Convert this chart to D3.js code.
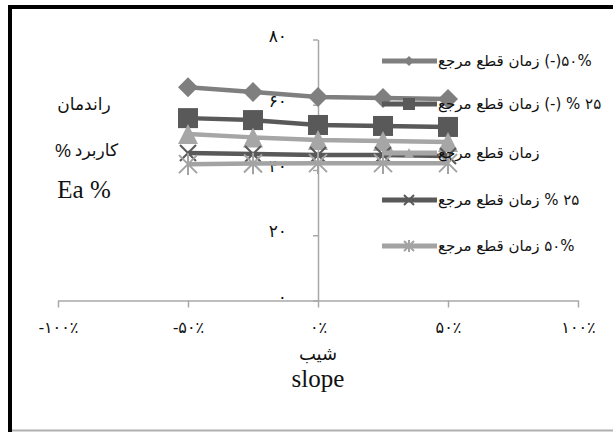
<!DOCTYPE html>
<html><head><meta charset="utf-8">
<script src="https://cdn.jsdelivr.net/npm/d3@7"></script>
<style>
html,body{margin:0;padding:0;background:#fff;}
svg{display:block;}
</style>
</head><body>
<svg id="c" width="613" height="432"></svg>
<script>
// ---- data ----
const slopes = [-50, -25, 0, 25, 50];
const seriesNames = [
  "۵۰%(-) زمان قطع مرجع",
  "۲۵ % (-) زمان قطع مرجع",
  "زمان قطع مرجع",
  "۲۵ % زمان قطع مرجع",
  "۵۰% زمان قطع مرجع"
];
const minus50 = [65.4, 63.9, 62.4, 62.1, 61.8];
const minus25 = [55.9, 55.3, 53.8, 53.5, 53.2];
const baseline = [51.0, 50.0, 49.2, 48.9, 48.6];
const plus25 = [45.2, 44.9, 44.6, 44.6, 44.3];
const plus50 = [41.8, 42.0, 42.1, 42.1, 42.1];
const xTicks = [-100, -50, 0, 50, 100];
const yTicks = [0, 20, 40, 60, 80];
const yTitleWord1 = "راندمان";
const yTitleWord2 = "کاربرد";
const yTitleWord3 = "Ea %";
const xTitleLines = ["شیب", "slope"];

const allSeries = [minus50, minus25, baseline, plus25, plus50];
const colors = ["#7f7f7f", "#595959", "#a6a6a6", "#595959", "#a3a3a3"];
const markers = ["diamond", "square", "triangle", "x", "star"];

const fa = s => String(s).replace(/\d/g, d => "۰۱۲۳۴۵۶۷۸۹"[d]);

const svg = d3.select("#c");
// frame
svg.append("line").attr("x1", 8).attr("x2", 613).attr("y1", 7).attr("y2", 7).attr("stroke", "#000").attr("stroke-width", 4);
svg.append("line").attr("x1", 10).attr("x2", 10).attr("y1", 5).attr("y2", 432).attr("stroke", "#000").attr("stroke-width", 4);
svg.append("line").attr("x1", 12).attr("x2", 613).attr("y1", 430.5).attr("y2", 430.5).attr("stroke", "#b0b0b0").attr("stroke-width", 2);

const x = d3.scaleLinear().domain([-100, 100]).range([58, 578]);
const y = d3.scaleLinear().domain([0, 80]).range([300.5, 39.5]);

const axisColor = "#a8a8a8";
const gx = svg.append("g").attr("transform", `translate(0,${y(0)})`)
  .call(d3.axisBottom(x).tickValues(xTicks).tickSize(7).tickSizeOuter(0).tickPadding(14)
    .tickFormat(d => (d < 0 ? "-" : "") + fa(Math.abs(d)) + "٪"));
gx.select(".domain").attr("stroke", axisColor).attr("stroke-width", 1.5);
gx.selectAll(".tick line").attr("stroke", axisColor).attr("stroke-width", 1.5);
gx.selectAll(".tick text").attr("font-family", "'Liberation Serif','DejaVu Sans',serif").attr("font-size", 16).attr("fill", "#111");

const gy = svg.append("g").attr("transform", `translate(${x(0)},0)`)
  .call(d3.axisLeft(y).tickValues(yTicks).tickSize(5).tickSizeOuter(0).tickPadding(26)
    .tickFormat(d => fa(d)));
gy.select(".domain").attr("stroke", axisColor).attr("stroke-width", 1.5);
gy.selectAll(".tick line").attr("stroke", axisColor).attr("stroke-width", 1.5);
gy.selectAll(".tick text").attr("font-family", "'Liberation Serif','DejaVu Sans',serif").attr("font-size", 17).attr("fill", "#111").attr("dy", "0.1em");

// y title
svg.append("text").attr("x", 84).attr("y", 110).attr("text-anchor", "middle")
  .attr("font-family", "'DejaVu Sans',sans-serif").attr("font-size", 17).attr("fill", "#111").text(yTitleWord1);
svg.append("text").attr("x", 55).attr("y", 157).attr("text-anchor", "start")
  .attr("font-family", "'Liberation Sans',sans-serif").attr("font-size", 18).attr("fill", "#111").text("%");
svg.append("text").attr("x", 118).attr("y", 156).attr("text-anchor", "end")
  .attr("font-family", "'DejaVu Sans',sans-serif").attr("font-size", 17).attr("fill", "#111").text(yTitleWord2);
svg.append("text").attr("x", 84).attr("y", 198).attr("text-anchor", "middle")
  .attr("font-family", "'Liberation Serif',serif").attr("font-size", 25).attr("fill", "#111").text(yTitleWord3);

xTitleLines.forEach((t, i) => {
  svg.append("text").attr("x", x(0)).attr("y", [360, 387][i])
    .attr("text-anchor", "middle")
    .attr("font-family", i === 1 ? "'Liberation Serif',serif" : "'DejaVu Sans',sans-serif")
    .attr("font-size", i === 1 ? 25 : 18).attr("fill", "#111").text(t);
});

function drawMarker(g, type, color, s) {
  if (type === "diamond") g.append("path").attr("d", `M0,${-s}L${s},0L0,${s}L${-s},0Z`).attr("fill", color);
  else if (type === "square") g.append("rect").attr("x", -s).attr("y", -s).attr("width", 2 * s).attr("height", 2 * s).attr("fill", color);
  else if (type === "triangle") g.append("path").attr("d", `M0,${-s}L${s},${s}L${-s},${s}Z`).attr("fill", color);
  else if (type === "x") g.append("path").attr("d", `M${-s},${-s}L${s},${s}M${-s},${s}L${s},${-s}`).attr("stroke", color).attr("stroke-width", 2);
  else if (type === "star") g.append("path").attr("d", `M${-s},${-s}L${s},${s}M${-s},${s}L${s},${-s}M0,${-s * 1.2}L0,${s * 1.2}`).attr("stroke", color).attr("stroke-width", 2);
}

const line = d3.line().x((d, i) => x(slopes[i])).y(d => y(d));
const sizes = [10, 10, 10, 8, 9];
allSeries.forEach((vals, k) => {
  const g = svg.append("g");
  g.append("path").datum(vals).attr("d", line).attr("fill", "none").attr("stroke", colors[k]).attr("stroke-width", 4.5);
  vals.forEach((v, i) => {
    const m = g.append("g").attr("transform", `translate(${x(slopes[i])},${y(v)})`);
    drawMarker(m, markers[k], colors[k], sizes[k]);
  });
});

// legend
const legY = [61, 104, 153, 200, 246];
seriesNames.forEach((name, k) => {
  const g = svg.append("g").attr("transform", `translate(0,${legY[k]})`);
  g.append("line").attr("x1", 382).attr("x2", 437).attr("y1", 0).attr("y2", 0).attr("stroke", colors[k]).attr("stroke-width", 5);
  const m = g.append("g").attr("transform", "translate(409,0)");
  drawMarker(m, markers[k], colors[k], k === 1 ? 6 : 5);
  g.append("text").attr("x", 438).attr("y", 5)
    .style("direction", "rtl").attr("text-anchor", "end")
    .attr("font-family", "'DejaVu Sans',sans-serif").attr("font-size", 15).attr("fill", "#111").text(name);
});
</script>
</body></html>
